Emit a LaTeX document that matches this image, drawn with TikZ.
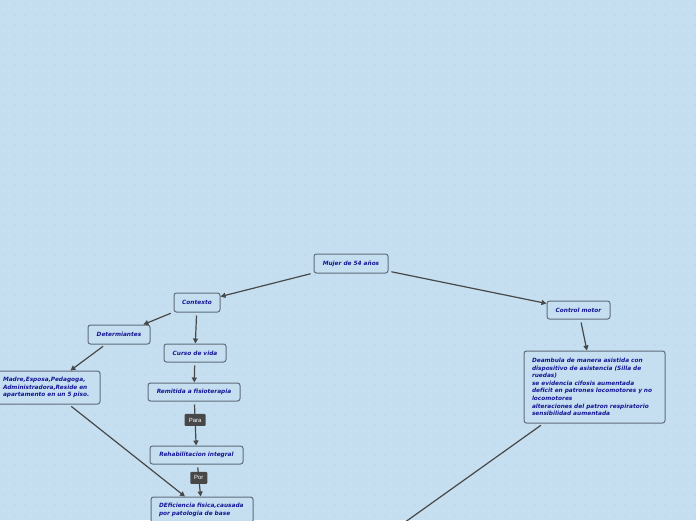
\documentclass[tikz,border=0pt]{standalone}
\usepackage{fontspec}
\setsansfont{Liberation Sans}
\newfontfamily\dvfont{DejaVu Sans}
\usetikzlibrary{arrows.meta}
\definecolor{bg}{HTML}{C5DFF1}
\definecolor{dotc}{HTML}{B2CCE2}
\definecolor{txt}{RGB}{20,20,150}
\definecolor{edgec}{HTML}{484848}
\definecolor{border}{HTML}{5F6B78}
\begin{document}
\begin{tikzpicture}[x=1pt,y=-1pt,
  box/.style={draw=border, line width=1pt, rounded corners=2.5pt, fill=bg,
    font=\dvfont\bfseries\itshape\fontsize{5.8}{7.6}\selectfont, text=txt, inner sep=0pt},
  conn/.style={draw=edgec, line width=1.2pt, shorten <=3pt, -{Triangle[length=5pt,width=5pt]}},
  lab/.style={fill=edgec, text=white, font=\sffamily\fontsize{6}{7}\selectfont, inner sep=0pt, rounded corners=1pt, minimum height=12pt}]
\useasboundingbox (0,0) rectangle (696,520);
\fill[bg] (0,0) rectangle (696,520);
\foreach \i in {0,...,69} \foreach \j in {0,...,51} \fill[dotc] (\i*10+5,\j*10+5) circle (0.6pt);
\clip (0,0) rectangle (696,520);

\node[box, minimum width=74pt, minimum height=19pt] (mujer) at (351,263.5) {Mujer de 54 años};
\node[box, minimum width=46pt, minimum height=19pt] (contexto) at (197,302.5) {Contexto};
\node[box, minimum width=62pt, minimum height=19pt] (determ) at (119,334.5) {Determiantes};
\node[box, minimum width=62pt, minimum height=18pt] (curso) at (195,353) {Curso de vida};
\node[box, text width=89pt, inner xsep=8pt, align=left, minimum height=33pt] (madre) at (47.5,387.5) {Madre,Esposa,Pedagoga,\\Administradora,Reside en\\apartamento en un 5 piso.};
\node[box, minimum width=92pt, minimum height=18pt] (remitida) at (194,392) {Remitida a fisioterapia};
\node[box, minimum width=93pt, minimum height=18pt] (rehab) at (196.5,455) {Rehabilitacion integral};
\node[box, text width=86pt, inner xsep=8pt, align=left, minimum height=26pt] (defic) at (202,510) {DEficiencia fisica,causada\\por patologia de base};
\node[box, minimum width=63pt, minimum height=18pt] (control) at (578.5,310) {Control motor};
\node[box, text width=125pt, inner xsep=8pt, align=left, minimum height=72pt] (deamb) at (594.5,387) {Deambula de manera asistida con\\dispositivo de asistencia (Silla de\\ruedas)\\se evidencia cifosis aumentada\\deficit en patrones locomotores y no\\locomotores\\alteraciones del patron respiratorio\\sensibilidad aumentada};
\coordinate (offend) at (380,540);

\draw[conn] (mujer) -- (contexto);
\draw[conn] (mujer) -- (control);
\draw[conn] (contexto) -- (determ);
\draw[conn] (contexto) -- (curso);
\draw[conn] (determ) -- (madre);
\draw[conn] (curso) -- (remitida);
\draw[conn] (remitida) -- node[lab, pos=0.42, minimum width=21pt] (para) {Para} (rehab);
\draw[conn] (rehab) -- node[lab, pos=0.42, minimum width=17pt] (por) {Por} (defic);
\draw[conn] (madre) -- (defic);
\draw[conn] (control) -- (deamb);
\draw[conn] (deamb) -- (offend);
\end{tikzpicture}
\end{document}
